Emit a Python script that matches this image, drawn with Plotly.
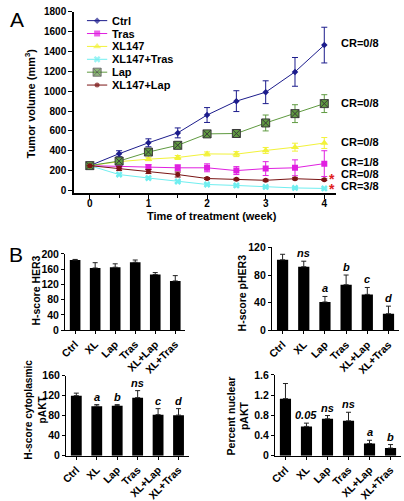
import plotly.graph_objects as go

W, H = 404, 501
FONT = "Arial, Liberation Sans, sans-serif"

# ---------------- Panel A data ----------------
weeks = [0, 0.5, 1, 1.5, 2, 2.5, 3, 3.5, 4]
series_names = ["Ctrl", "Tras", "XL147", "XL147+Tras", "Lap", "XL147+Lap"]
ctrl = [250, 370, 480, 580, 760, 900, 990, 1195, 1465]
ctrl_err = [0, 30, 40, 50, 75, 105, 115, 145, 180]
tras = [250, 240, 235, 228, 228, 200, 220, 228, 270]
tras_err = [0, 15, 25, 30, 40, 40, 70, 80, 130]
xl147 = [250, 290, 315, 332, 368, 366, 403, 436, 478]
xl147_err = [0, 15, 15, 20, 20, 25, 30, 40, 55]
xl147_tras = [250, 160, 125, 90, 60, 50, 35, 25, 20]
xl147_tras_err = [0, 10, 10, 10, 8, 8, 6, 5, 5]
lap = [250, 296, 387, 455, 570, 574, 680, 774, 875]
lap_err = [0, 20, 25, 35, 35, 40, 80, 90, 90]
xl147_lap = [250, 220, 190, 160, 120, 112, 102, 118, 108]
xl147_lap_err = [0, 20, 20, 25, 10, 10, 10, 10, 8]
cr_labels = ["CR=0/8", "CR=0/8", "CR=0/8", "CR=1/8", "CR=0/8", "CR=3/8"]
x_ticks_A = [0, 1, 2, 3, 4]

# ---------------- Panel B data ----------------
b_cats = ["Ctrl", "XL", "Lap", "Tras", "XL+Lap", "XL+Tras"]
her3 = [184, 163, 165, 178, 146, 129]
her3_err = [1.5, 14, 9, 6, 5, 14]
pher3 = [102, 92, 41, 66, 52, 24]
pher3_err = [8, 8, 8, 14, 10, 11]
pher3_sig = ["", "ns", "a", "b", "c", "d"]
cyto = [120, 99, 100, 116, 82, 81]
cyto_err = [5, 3, 2, 14, 12, 13]
cyto_sig = ["", "a", "b", "ns", "c", "d"]
nuc = [1.13, 0.58, 0.73, 0.69, 0.24, 0.15]
nuc_err = [0.3, 0.065, 0.065, 0.17, 0.065, 0.07]
nuc_sig = ["", "0.05", "ns", "ns", "a", "b"]

# ---------------- styles ----------------
series_vals = [ctrl, tras, xl147, xl147_tras, lap, xl147_lap]
series_errs = [ctrl_err, tras_err, xl147_err, xl147_tras_err, lap_err, xl147_lap_err]
styles = [
    dict(color="#1c1c8c", symbol="diamond", size=5, lc="#1c1c8c", lw=0),
    dict(color="#e020e0", symbol="square", size=6, lc="#e020e0", lw=0),
    dict(color="#f2f23a", symbol="triangle-up", size=7, lc="#f2f23a", lw=0),
    dict(color="#70eef0", symbol="x", size=6, lc="#70eef0", lw=0),
    dict(color="#5f9a40", symbol="square-x", size=8, lc="#3a3a3a", lw=1),
    dict(color="#7a1414", symbol="circle", size=5, lc="#7a1414", lw=0),
]

def px(x):
    return x / W

def py(y):
    return 1 - y / H

fig = go.Figure()

for name, vals, errs, st in zip(series_names, series_vals, series_errs, styles):
    fig.add_trace(go.Scatter(
        x=weeks, y=vals, name=name, mode="lines+markers",
        line=dict(color=st["color"], width=1),
        marker=dict(symbol=st["symbol"], size=st["size"], color=st["color"],
                    line=dict(color=st["lc"], width=st["lw"])),
        error_y=dict(type="data", array=errs, color=st["color"], thickness=1, width=3),
        xaxis="x", yaxis="y", showlegend=False,
    ))

# custom compact legend (key samples on their own small axis)
key_x = [0, 0.5, 1]
for i, (name, st) in enumerate(zip(series_names, styles)):
    fig.add_trace(go.Scatter(
        x=key_x, y=[i] * 3, mode="lines+markers",
        line=dict(color=st["color"], width=1),
        marker=dict(symbol=st["symbol"], size=[0, st["size"], 0], color=st["color"],
                    line=dict(color=st["lc"], width=st["lw"])),
        xaxis="x6", yaxis="y6", showlegend=False, hoverinfo="skip",
    ))
    fig.add_annotation(x=1, y=i, xref="x6", yref="y6", text=name, showarrow=False,
                       xanchor="left", yanchor="middle", xshift=3,
                       font=dict(family=FONT, size=11, color="black", weight="bold"))

# bar panels
bar_sets = [
    (her3, her3_err, None, "x2", "y2"),
    (pher3, pher3_err, pher3_sig, "x3", "y3"),
    (cyto, cyto_err, cyto_sig, "x4", "y4"),
    (nuc, nuc_err, nuc_sig, "x5", "y5"),
]
for vals, errs, sig, xa, ya in bar_sets:
    fig.add_trace(go.Bar(
        x=b_cats, y=vals, marker=dict(color="black", line=dict(width=0)),
        error_y=dict(type="data", symmetric=False, array=errs, arrayminus=[0] * len(errs),
                     color="#222222", thickness=1, width=2.5),
        xaxis=xa, yaxis=ya, showlegend=False,
    ))
    if sig:
        for c, v, e, s in zip(b_cats, vals, errs, sig):
            if s:
                fig.add_annotation(x=c, y=v + e, xref=xa, yref=ya, text=s, showarrow=False,
                                   xanchor="center", yanchor="bottom", yshift=0,
                                   font=dict(family=FONT, size=11, color="black",
                                             weight="bold", style="italic"))

tickA = dict(family=FONT, size=10, color="black", weight="bold")
tickB = dict(family=FONT, size=10.5, color="black", weight="bold")
axis_common = dict(showline=True, linecolor="black", showgrid=False, zeroline=False,
                   ticks="outside", tickcolor="black", tickwidth=1)

layout = dict(
    width=W, height=H, margin=dict(l=0, r=0, t=0, b=0),
    paper_bgcolor="white", plot_bgcolor="white", bargap=0.47,
    font=dict(family=FONT, color="black"),
    xaxis=dict(domain=[px(69), px(335)], range=[-0.27, 4.2], tickvals=x_ticks_A,
               ticklen=4, ticklabelstandoff=-4, linewidth=1.5, tickfont=tickA, anchor="y",
               minor=dict(ticks="outside", dtick=0.5, ticklen=3, tickcolor="black"),
               **axis_common),
    yaxis=dict(domain=[py(192), py(6)], range=[-30, 1800], dtick=200, ticklen=4,
               linewidth=1.5, tickfont=tickA, anchor="x", **axis_common),
    xaxis6=dict(domain=[px(82), px(103)], range=[0, 1], visible=False, anchor="y6"),
    yaxis6=dict(domain=[py(87.6), py(8.4)], range=[5.5, -0.5], visible=False, anchor="x6"),
)

b_geom = [
    ("2", (60, 182), (254, 332), [0, 200], 40),
    ("3", (270, 399), (247.3, 332.3), [0, 120], 40),
    ("4", (61, 185.5), (378.7, 460.7), [0, 160], 40),
    ("5", (273, 401), (378, 460.7), [0, 1.6], 0.4),
]
for k, (x0, x1), (ytop, ybot), yr, dt in b_geom:
    layout["xaxis" + k] = dict(domain=[px(x0), px(x1)], range=[-0.5, 5.5], type="category",
                               tickangle=-45, ticklen=3, linewidth=1.2, tickfont=tickB,
                               anchor="y" + k, **axis_common)
    layout["yaxis" + k] = dict(domain=[py(ybot), py(ytop)], range=yr, dtick=dt, ticklen=3,
                               linewidth=1.2, tickfont=tickB, anchor="x" + k, **axis_common)

fig.update_layout(**layout)

# axis titles and panel labels
def ann(x, y, text, size, angle=0, bold=True, color="black", xanchor="center", yanchor="middle"):
    fig.add_annotation(x=px(x), y=py(y), xref="paper", yref="paper", text=text,
                       showarrow=False, textangle=angle, xanchor=xanchor, yanchor=yanchor,
                       font=dict(family=FONT, size=size, color=color,
                                 weight="bold" if bold else "normal"))

ann(11, 14, "A", 21, bold=False)
ann(10, 255, "B", 21, bold=False)
ann(24, 100, "Tumor volume (mm<sup>3</sup>)", 11, angle=-90)
ann(209, 215, "Time of treatment (week)", 11)
ann(30, 292, "H-score HER3", 10.5, angle=-90)
ann(240, 294, "H-score pHER3", 10.5, angle=-90)
ann(30, 414, "H-score cytoplasmic<br>pAKT", 10.2, angle=-90)
ann(235, 420, "Percent nuclear<br>pAKT", 10.5, angle=-90)

cr_y = [38, 99, 139, 159.5, 172.5, 184.5]
for lab, yy in zip(cr_labels, cr_y):
    ann(338, yy, lab, 11, xanchor="left")
for yy in [177, 188]:
    ann(331, yy, "*", 14, color="#e02020")

fig.write_html("out.html", config={"displayModeBar": False},
               post_script="document.body.style.margin='0px';")
